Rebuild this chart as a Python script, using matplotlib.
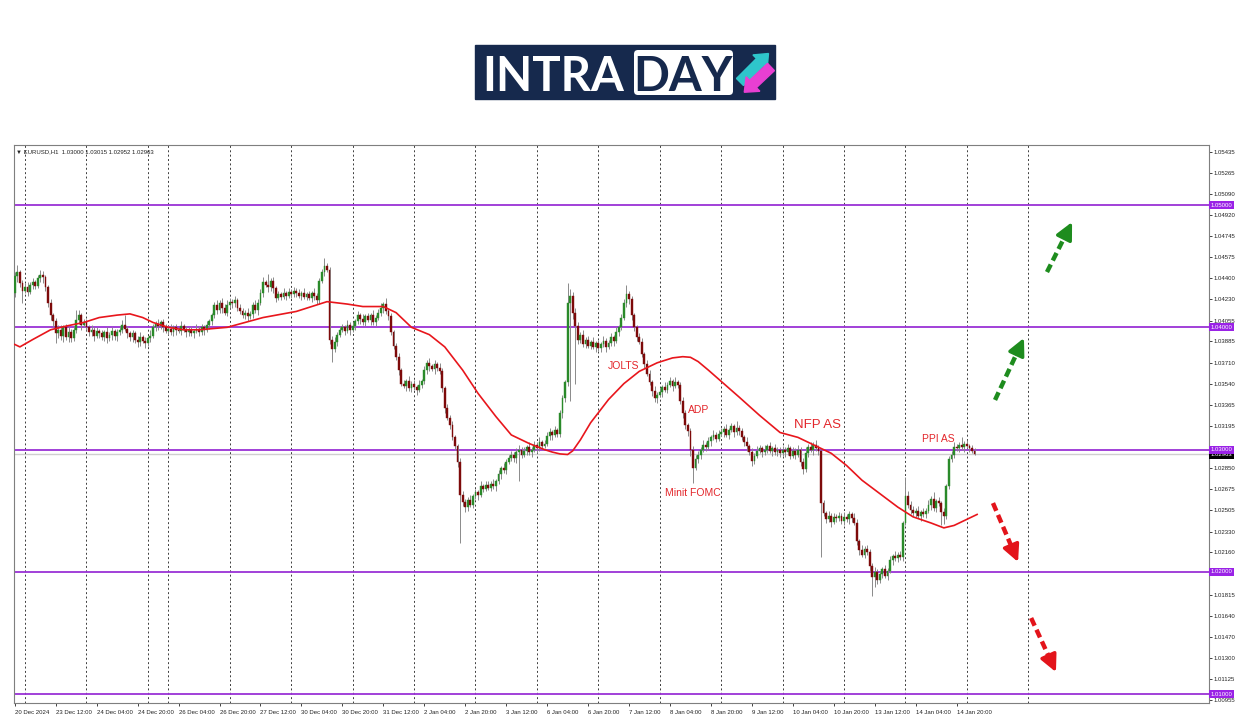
import matplotlib
matplotlib.use("Agg")
import matplotlib.pyplot as plt
from matplotlib.patches import FancyBboxPatch, FancyArrow
import numpy as np

plt.rcParams['font.family'] = ['Liberation Sans', 'DejaVu Sans']

# EURUSD H1 closes, in pips above 1.0000 (one row per stretch of the chart)
first_open = 428
close_pips = [
    442, 445, 436, 430, 433, 429, 435, 437, 434, 440, 443, 441, 433,
    420, 410, 405, 395, 398,
    393, 400, 392, 396, 391,
    398, 406, 410, 402, 404,
    400, 396, 398, 393, 397, 395,
    392, 396, 391, 394, 397, 393, 396,
    398, 402, 399, 395, 392, 395,
    390, 388, 392, 389, 387, 391, 393,
    400, 403, 401, 404, 400,
    397, 399, 396, 400, 398, 397, 401, 398, 396,
    398, 395, 397, 399, 396, 400, 398, 402, 405,
    410, 418, 414, 420, 416, 412, 418,
    421, 420, 422, 416, 413,
    410, 412, 409, 411, 418, 414, 420,
    428, 437, 435, 433, 438, 432,
    424, 427, 425, 428, 426, 429, 427, 430, 428,
    426, 428, 425, 427, 424, 428, 426, 422,
    438, 445, 450, 447,
    390, 382, 388, 394, 398,
    400, 397, 402, 398, 401, 405,
    410, 407, 404, 409, 406, 410, 404, 408,
    412, 416, 419, 413, 409,
    396, 385, 376, 365, 354,
    352, 356, 350, 354, 351, 349, 353, 356,
    365, 371, 368, 366, 370, 367, 364,
    350, 334, 326, 320, 310, 303,
    290, 263, 257,
    253, 259, 255, 262,
    265, 263, 270, 268, 271,
    269, 272, 270, 274,
    280, 285, 283, 290, 293,
    296, 293, 298, 300, 296,
    299, 302, 298, 300,
    304, 301, 306, 303, 305,
    311, 314, 312, 316, 313,
    330, 342, 355,
    420, 426,
    412, 401,
    390, 394, 386, 390,
    385, 388, 384, 387, 383, 386, 389, 384, 387,
    392, 389, 396, 400, 408,
    420, 427, 423,
    410, 400,
    392, 388,
    378, 370, 362,
    355, 348, 342, 345,
    347, 351, 349, 353, 356, 352, 355, 353,
    340, 330, 320,
    315, 300,
    285, 292,
    296, 300, 304, 302,
    307, 310, 312, 309, 313,
    314, 317, 312, 316, 319, 314, 318, 315,
    310, 306, 303, 298, 291, 295, 299,
    301, 298, 300, 303, 299, 301, 298, 300,
    297, 300, 298, 301, 295, 299, 296, 300,
    290, 284,
    297, 302, 300, 304, 301, 299,
    256,
    248, 243, 246, 241, 245, 244,
    246, 242, 245, 243, 247, 244, 240,
    225, 218, 214, 219, 216,
    205, 196, 200, 193,
    198, 202, 197, 201,
    210, 213, 211, 214, 212,
    240, 262,
    255, 251,
    248, 250, 246, 249, 247, 250,
    255, 260, 252, 258, 256,
    249, 246,
    270, 292,
    296, 302,
    301, 304, 302, 305, 303, 301,
    299, 296.3,
]
# upper / lower shadow lengths in pips, same rows as above
wick_up = ["3423342323432", "23234", "42353", "36423", "324232", "3242323", "343223",
           "2342325", "32423", "324232423", "232423232", "2342434", "32423", "3242343",
           "342323", "232423232", "32423242", "2343", "23423", "324232", "32423242",
           "34232", "32232", "32423242", "3242324", "323232", "233", "3242", "32423",
           "3242", "32423", "32342", "3242", "32423", "34232", "232", "45", "34", "3242",
           "324232423", "32423", "383", "32", "23", "323", "3242", "32423242", "232",
           "23", "34", "3242", "32423", "42423252", "3242324", "32423242", "23242324",
           "23", "534243", "2", "324232", "3242324", "32423", "3242", "3242", "32423",
           "23", "43", "324232", "42523", "23", "23", "34", "324232", "32"]
wick_dn = ["3534232432353", "34524", "35243", "23342", "233424", "2342434", "232434",
           "3432423", "23324", "232342324", "324232423", "3232423", "24332", "2342324",
           "232434", "323242323", "24232343", "3232", "43232", "232423", "24232423",
           "23423", "23342", "24232423", "2342432", "342323", "453", "4323", "24232",
           "2324", "24232", "23423", "2324", "24232", "23423", "343", "32", "54", "4323",
           "232423242", "24232", "234", "43", "32", "232", "2434", "24232423", "343",
           "45", "82", "3423", "24232", "24232423", "2342432", "24232423", "32423242",
           "34", "232423", "9", "232423", "2342432", "34232", "4383", "2324", "24232",
           "32", "34", "232423", "24232", "57", "32", "23", "232423", "21"]
# long shadows read individually (bar index -> pips)
spike_high = {1: 451, 24: 414, 43: 410, 99: 444, 121: 457, 145: 424, 216: 436,
              239: 435, 348: 278, 370: 310}
spike_low = {3: 420, 16: 387, 124: 372, 174: 224, 197: 274, 217: 340, 219: 354,
             265: 273, 315: 212, 335: 180, 362: 238}

# moving average (red line), read at bar positions
ma_bar = [0, 2, 7, 14, 20, 27, 33, 40, 45, 50, 54, 60, 66, 72, 83, 97, 110, 122, 130,
          136, 144, 149, 155, 162, 168, 175, 181, 188, 194, 201, 207, 210, 213, 216,
          218, 221, 225, 232, 238, 244, 251, 257, 261, 264, 267, 271, 277, 283, 291,
          299, 306, 312, 319, 325, 331, 338, 345, 351, 358, 363, 367, 371, 376]
ma_val = [1.0386, 1.0384, 1.0390, 1.0398, 1.0401, 1.0404, 1.0408, 1.0410, 1.0411,
          1.0408, 1.0404, 1.0400, 1.0398, 1.0398, 1.0400, 1.0408, 1.0413, 1.0421,
          1.0419, 1.0417, 1.0417, 1.0412, 1.0400, 1.0394, 1.0384, 1.0365, 1.0346,
          1.0327, 1.0312, 1.0305, 1.0300, 1.0298, 1.02965, 1.0296, 1.0299, 1.0308,
          1.0322, 1.0341, 1.0354, 1.0364, 1.0371, 1.0375, 1.0376, 1.03755, 1.0372,
          1.0365, 1.0354, 1.0343, 1.0328, 1.0314, 1.0310, 1.0304, 1.0297, 1.0287,
          1.0275, 1.0264, 1.0253, 1.0245, 1.0240, 1.0236, 1.0238, 1.0242, 1.0247]

levels = [1.05, 1.04, 1.03, 1.02, 1.01]
price_ticks = [1.05435, 1.05265, 1.05090, 1.04920, 1.04745, 1.04575, 1.04400,
               1.04230, 1.04055, 1.03885, 1.03710, 1.03540, 1.03365, 1.03195,
               1.02850, 1.02675, 1.02505, 1.02330, 1.02160,
               1.01815, 1.01640, 1.01470, 1.01300, 1.01125, 1.00955]
time_labels = ["20 Dec 2024", "23 Dec 12:00", "24 Dec 04:00", "24 Dec 20:00",
               "26 Dec 04:00", "26 Dec 20:00", "27 Dec 12:00", "30 Dec 04:00",
               "30 Dec 20:00", "31 Dec 12:00", "2 Jan 04:00", "2 Jan 20:00",
               "3 Jan 12:00", "6 Jan 04:00", "6 Jan 20:00", "7 Jan 12:00",
               "8 Jan 04:00", "8 Jan 20:00", "9 Jan 12:00", "10 Jan 04:00",
               "10 Jan 20:00", "13 Jan 12:00", "14 Jan 04:00", "14 Jan 20:00"]
bars_per_label = 16
grid_bars = [4, 28, 52, 60, 84, 108, 132, 156, 180, 204, 228, 252, 276, 300, 324,
             348, 372, 396]

# --- build OHLC
close = 1 + np.array(close_pips, dtype=float) / 1e4
opn = np.r_[1 + first_open / 1e4, close[:-1]]
up = np.array([int(c) for c in "".join(wick_up)]) / 1e4
dn = np.array([int(c) for c in "".join(wick_dn)]) / 1e4
high = np.maximum(opn, close) + up
low = np.minimum(opn, close) - dn
for b, v in spike_high.items():
    high[b] = 1 + v / 1e4
for b, v in spike_low.items():
    low[b] = 1 + v / 1e4
x = np.arange(len(close))

fig = plt.figure(figsize=(12.5, 7.16), dpi=100)

# overlay in pixel coords for the logo
ov = fig.add_axes([0, 0, 1, 1])
ov.set_xlim(0, 1250)
ov.set_ylim(716, 0)
ov.axis('off')
ov.add_patch(plt.Rectangle((475, 45), 300, 54, color='#16294d'))
ov.text(482, 91, "INTRA", color='white', fontsize=34, fontweight='bold',
        family='Lato', va='baseline', ha='left')
ov.add_patch(FancyBboxPatch((634, 50), 99, 45, boxstyle='round,pad=0,rounding_size=4',
                            fc='white', ec='none'))
ov.text(683, 91, "DAY", color='#16294d', fontsize=34, fontweight='bold',
        family='Lato', va='baseline', ha='center')
ov.add_patch(FancyArrow(740, 82, 20, -20, width=10, head_width=20, head_length=12,
                        length_includes_head=False, color='#2ec5cb'))
ov.add_patch(FancyArrow(771, 67, -18, 17, width=10, head_width=20, head_length=12,
                        length_includes_head=False, color='#e83fd2'))

ax = fig.add_axes([14 / 1250, 13 / 716, 1195 / 1250, 558 / 716])
ax.set_facecolor('white')

bull = close >= opn
colors = np.where(bull, '#2a8a2a', '#7d0a0a')
body_lo = np.minimum(opn, close)
body_h = np.maximum(np.abs(close - opn), 0.00003)
ax.vlines(x, low, high, color='#8a8a8a', lw=0.7, zorder=3)
ax.bar(x, body_h, bottom=body_lo, width=0.72, color=colors, edgecolor=colors,
       linewidth=0.3, zorder=4)

ax.plot(ma_bar, ma_val, color='#e8161c', lw=1.2, zorder=5)

for lvl in levels:
    ax.axhline(lvl, color='#9a32d6', lw=1.3, zorder=2)
ax.axhline(close[-1], color='#cfcfcf', lw=1.0, zorder=1)

for g in grid_bars:
    ax.axvline(g, color='#3c3c3c', lw=0.7, ls=(0, (2, 2.5)), zorder=1)

ax.set_xlim(-0.3, 466.6)
ax.set_ylim(1.00928, 1.05491)

ax.yaxis.tick_right()
ax.set_yticks(price_ticks)
ax.set_yticklabels([f"{t:.5f}" for t in price_ticks])
ax.tick_params(axis='y', length=2, width=0.6, labelsize=4.3, pad=1.5, colors='#222222')
ax.set_xticks(np.arange(len(time_labels)) * bars_per_label)
ax.set_xticklabels(time_labels)
ax.tick_params(axis='x', length=2, width=0.6, labelsize=4.3, pad=3, colors='#222222')
for lbl in ax.get_xticklabels():
    lbl.set_ha('left')
for s in ax.spines.values():
    s.set_color('#7f7f7f')
    s.set_linewidth(0.8)

# price labels on the scale
ax.text(1.0015, close[-1] - 0.00004, f"{close[-1]:.5f}", transform=ax.get_yaxis_transform(),
        ha='left', va='center', fontsize=4.3, color='white', clip_on=False, zorder=6,
        bbox=dict(boxstyle='square,pad=0.25', fc='black', ec='none'))
for lvl in levels:
    ax.text(1.0015, lvl, f"{lvl:.5f}", transform=ax.get_yaxis_transform(),
            ha='left', va='center', fontsize=4.3, color='white', clip_on=False, zorder=7,
            bbox=dict(boxstyle='square,pad=0.25', fc='#9a22e6', ec='none'))

ax.text(0.002, 0.992, "\u25bc EURUSD,H1  1.03000 1.03015 1.02952 1.02963",
        transform=ax.transAxes, fontsize=4.3, va='top', ha='left', color='#222222')

red = '#e3262b'
ax.text(231.8, 1.03684, "JOLTS", color=red, fontsize=7.5, va='center', ha='left')
ax.text(263.1, 1.03324, "ADP", color=red, fontsize=7.5, va='center', ha='left')
ax.text(254.1, 1.02645, "Minit FOMC", color=red, fontsize=7.5, va='center', ha='left')
ax.text(304.5, 1.03201, "NFP AS", color=red, fontsize=9.5, va='center', ha='left')
ax.text(354.5, 1.03087, "PPI AS", color=red, fontsize=7.5, va='center', ha='left')

# dashed direction arrows
arrows = [(403.3, 1.04452, 413.1, 1.04861, '#1e8c1e'),
          (383.0, 1.03406, 394.3, 1.03913, '#1e8c1e'),
          (382.2, 1.02563, 392.0, 1.02081, '#e3141b'),
          (397.1, 1.01623, 406.8, 1.01181, '#e3141b')]
for x0, y0, x1, y1, c in arrows:
    xm, ym = x0 + 0.74 * (x1 - x0), y0 + 0.74 * (y1 - y0)
    ax.plot([x0, xm], [y0, ym], color=c, lw=3.2, ls=(0, (1.9, 1.0)),
            solid_capstyle='butt', zorder=6)
    ax.annotate('', xy=(x1, y1), xytext=(xm, ym),
                arrowprops=dict(arrowstyle='-|>,head_length=0.85,head_width=0.42',
                                color=c, lw=2.5, shrinkA=0, shrinkB=0,
                                mutation_scale=12), zorder=6)

fig.savefig("out.png", dpi=100)
